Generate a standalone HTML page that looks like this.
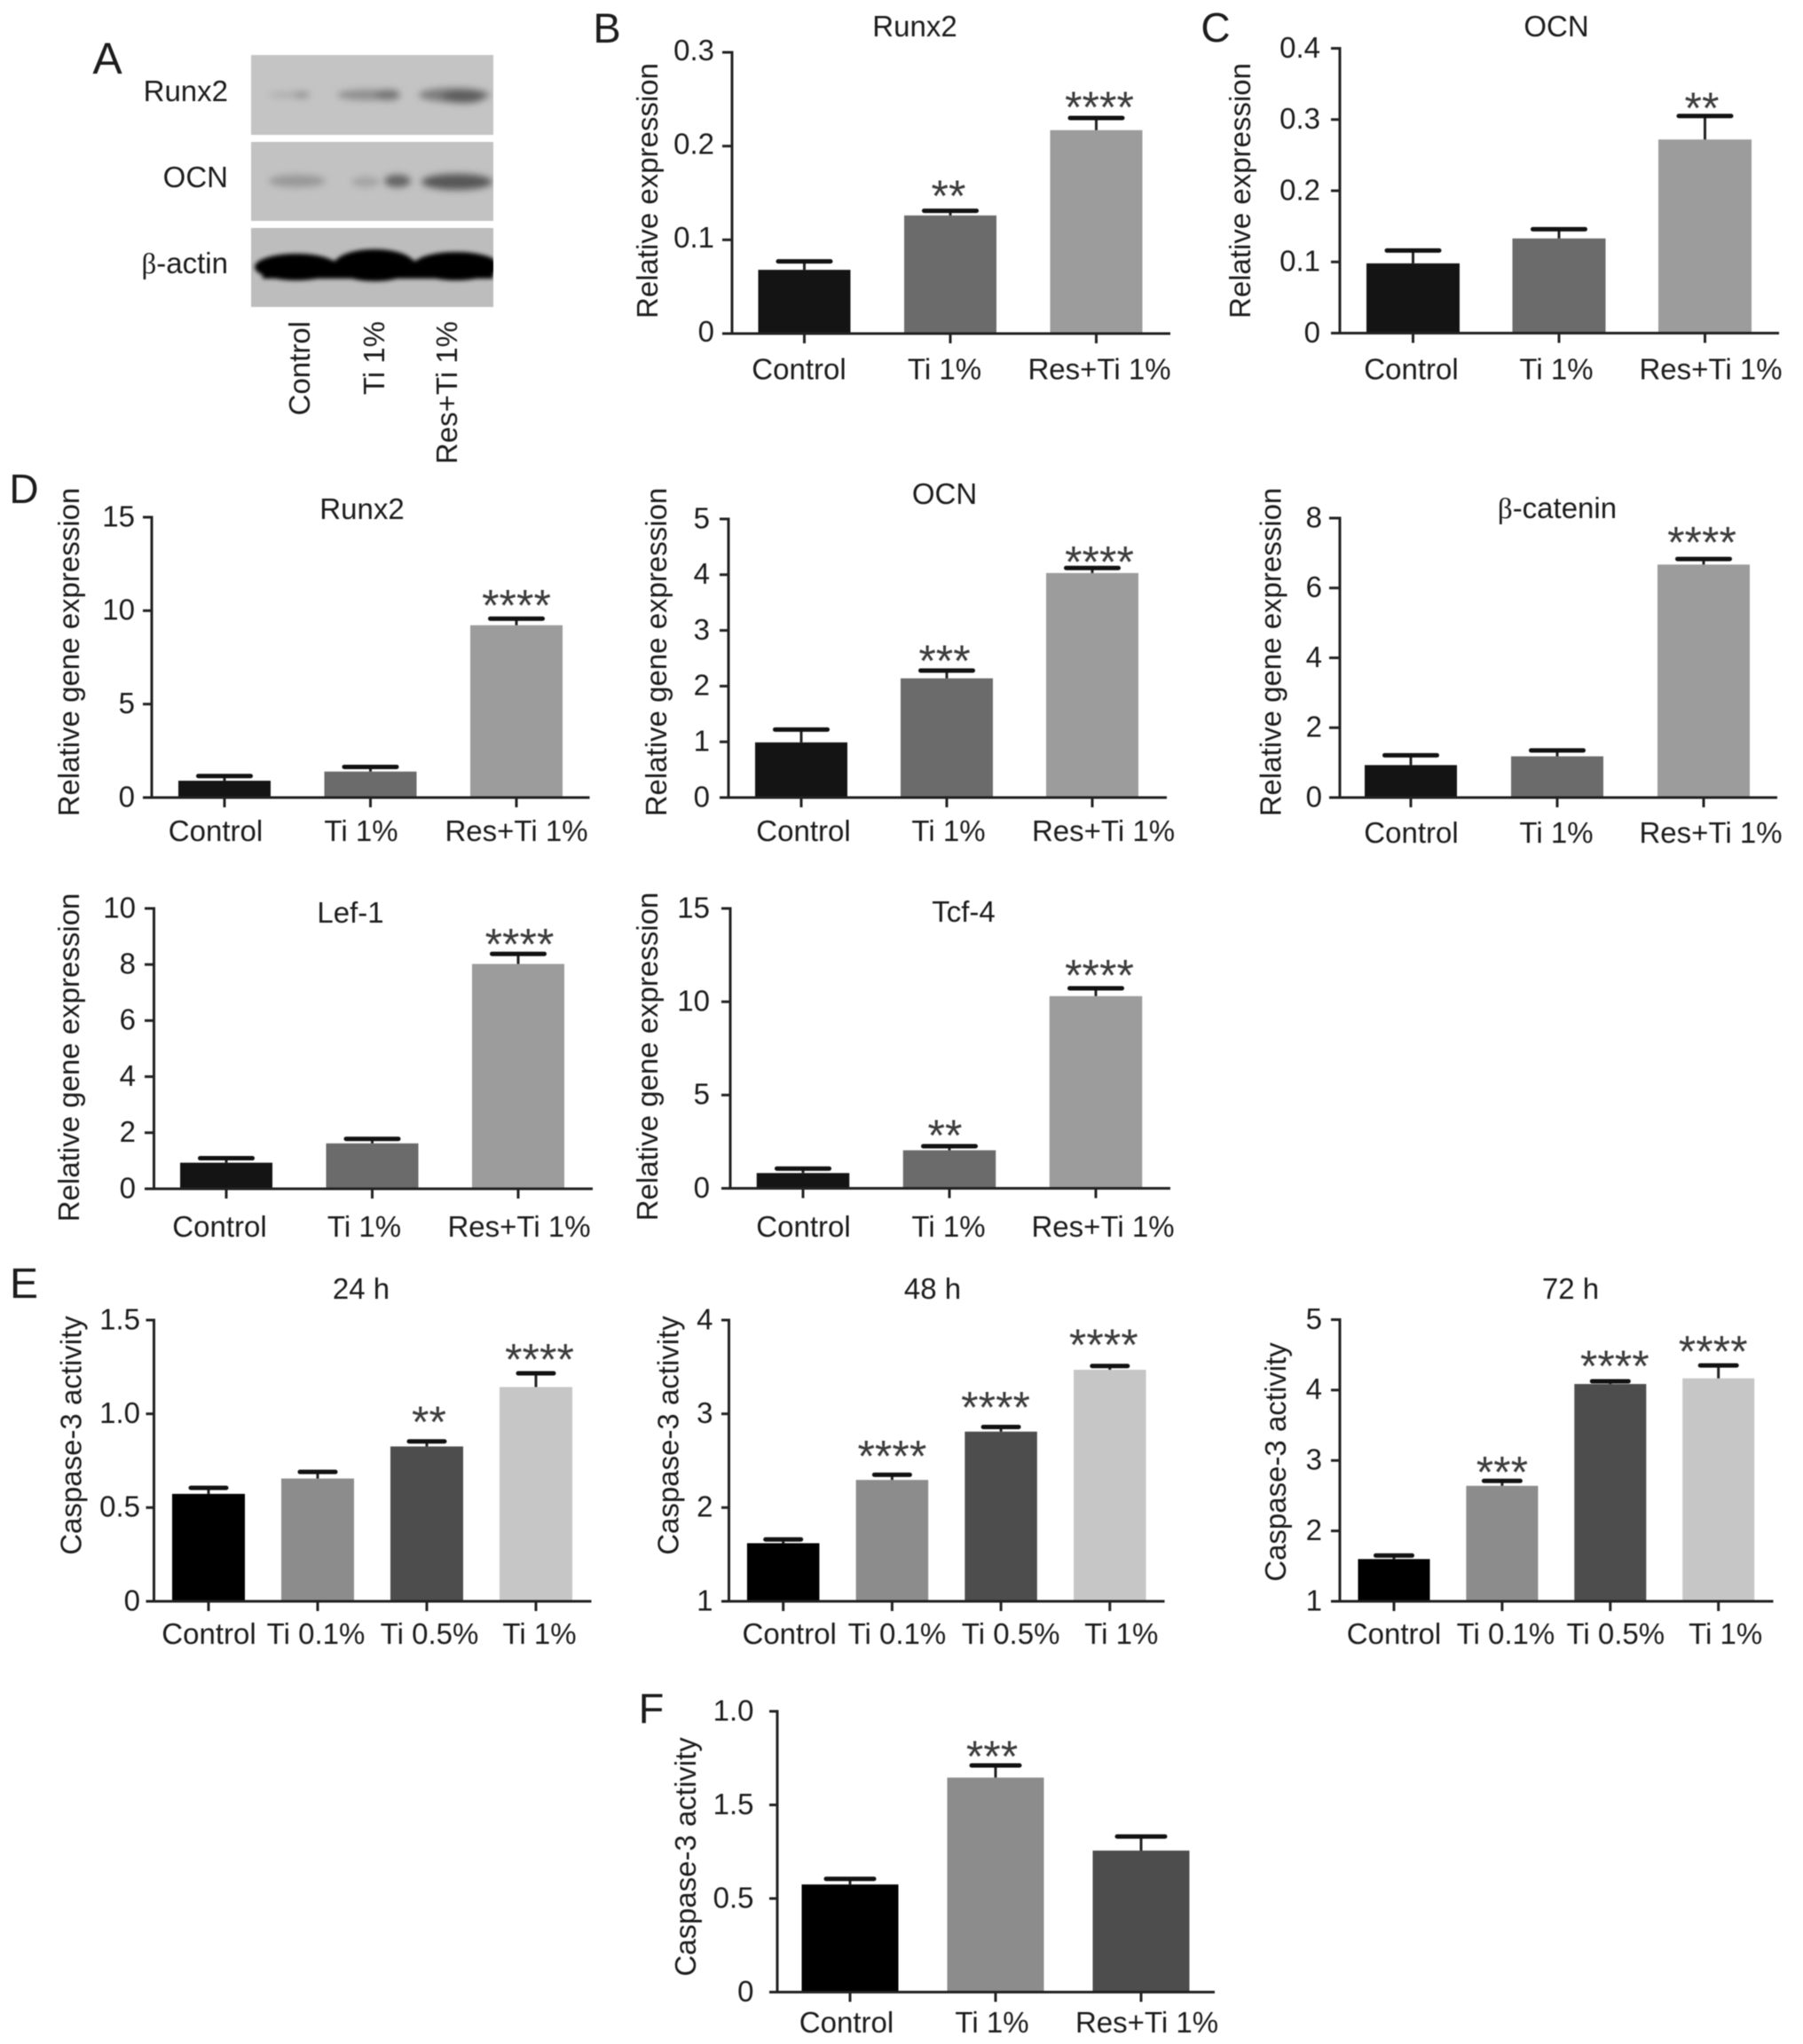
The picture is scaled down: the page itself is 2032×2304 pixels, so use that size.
<!DOCTYPE html>
<html lang="en">
<head>
<meta charset="utf-8">
<title>Runx2, OCN, Wnt gene expression and Caspase-3 activity figure</title>
<style>
html,body{margin:0;padding:0;background:#fff;}
#figure{display:block;width:2032px;height:2304px;filter:blur(0.6px);}
text{font-family:"Liberation Sans",Arial,sans-serif;fill:#1c1c1c;}
</style>
</head>
<body>
<svg id="figure" xmlns="http://www.w3.org/2000/svg" width="2032" height="2304" viewBox="0 0 2032 2304">
<defs>
  <filter id="bandBlur" x="-30%" y="-80%" width="160%" height="260%"><feGaussianBlur stdDeviation="4"/></filter>
  <filter id="blotEdge" x="-5%" y="-30%" width="110%" height="160%"><feGaussianBlur stdDeviation="2.5"/></filter>
  <clipPath id="clipBlot1"><rect x="283" y="62" width="273" height="90"/></clipPath>
  <clipPath id="clipBlot2"><rect x="283" y="160" width="273" height="89"/></clipPath>
  <clipPath id="clipBlot3"><rect x="283" y="257" width="273" height="89"/></clipPath>
</defs>
<rect x="0" y="0" width="2032" height="2304" fill="#fff"/>

<text x="121" y="83" font-size="50" text-anchor="middle">A</text>
<text x="684" y="48" font-size="47" text-anchor="middle">B</text>
<text x="1370" y="47" font-size="46" text-anchor="middle">C</text>
<text x="27" y="567" font-size="46" text-anchor="middle">D</text>
<text x="27" y="1463" font-size="48" text-anchor="middle">E</text>
<text x="734" y="1942" font-size="47" text-anchor="middle">F</text>

<g>
  <g clip-path="url(#clipBlot1)">
    <rect x="283" y="62" width="273" height="90" fill="#c4c4c4"/>
    <g filter="url(#bandBlur)">
      <ellipse cx="326" cy="107" rx="24" ry="3" fill="#aaaaaa"/>
      <ellipse cx="340" cy="107" rx="9" ry="4" fill="#969696"/>
      <ellipse cx="414" cy="107" rx="34" ry="6" fill="#8e8e8e"/>
      <ellipse cx="437" cy="107" rx="14" ry="6" fill="#747474"/>
      <ellipse cx="512" cy="107" rx="40" ry="8" fill="#7c7c7c"/>
      <ellipse cx="522" cy="109" rx="24" ry="7" fill="#5c5c5c"/>
    </g>
  </g>
  <g clip-path="url(#clipBlot2)">
    <rect x="283" y="160" width="273" height="89" fill="#c2c2c2"/>
    <g filter="url(#bandBlur)">
      <ellipse cx="335" cy="204" rx="32" ry="7" fill="#989898"/>
      <ellipse cx="412" cy="205" rx="16" ry="6" fill="#a4a4a4"/>
      <ellipse cx="448" cy="204" rx="15" ry="7" fill="#626262"/>
      <ellipse cx="515" cy="205" rx="40" ry="9" fill="#565656"/>
    </g>
  </g>
  <g clip-path="url(#clipBlot3)">
    <rect x="283" y="257" width="273" height="89" fill="#bdbdbd"/>
    <g filter="url(#blotEdge)">
      <ellipse cx="334" cy="301" rx="47" ry="15" fill="#060606"/>
      <ellipse cx="422" cy="299" rx="46" ry="18" fill="#060606"/>
      <ellipse cx="514" cy="300" rx="49" ry="16" fill="#060606"/>
      <rect x="296" y="294" width="260" height="20" fill="#060606"/>
    </g>
  </g>
  <text x="257" y="114" font-size="33" text-anchor="end">Runx2</text>
  <text x="257" y="211" font-size="33" text-anchor="end">OCN</text>
  <text x="257" y="308" font-size="33" text-anchor="end"><tspan font-family="'Liberation Serif',serif">β</tspan>-actin</text>
  <text transform="translate(349 362) rotate(-90)" font-size="33" text-anchor="end">Control</text>
  <text transform="translate(433 362) rotate(-90)" font-size="33" text-anchor="end">Ti 1%</text>
  <text transform="translate(515 362) rotate(-90)" font-size="33" text-anchor="end">Res+Ti 1%</text>
</g>

<g id="charts"></g>

<script>
// ----- shared categories -----
const categoriesThree = ["Control", "Ti 1%", "Res+Ti 1%"];
const categoriesDose = ["Control", "Ti 0.1%", "Ti 0.5%", "Ti 1%"];

// ----- panel B -----
const panelBValues = [0.068, 0.126, 0.217];
const panelBUpper = [0.077, 0.131, 0.230];
const panelBStars = ["", "**", "****"];
const panelBTicks = [0, 0.1, 0.2, 0.3];
const panelBTickLabels = ["0", "0.1", "0.2", "0.3"];

// ----- panel C -----
const panelCValues = [0.098, 0.133, 0.272];
const panelCUpper = [0.116, 0.146, 0.305];
const panelCStars = ["", "", "**"];
const panelCTicks = [0, 0.1, 0.2, 0.3, 0.4];
const panelCTickLabels = ["0", "0.1", "0.2", "0.3", "0.4"];

// ----- panel D: Runx2 -----
const runx2Values = [0.9, 1.39, 9.22];
const runx2Upper = [1.15, 1.64, 9.57];
const runx2Stars = ["", "", "****"];
const runx2Ticks = [0, 5, 10, 15];
const runx2TickLabels = ["0", "5", "10", "15"];

// ----- panel D: OCN -----
const ocnValues = [0.99, 2.14, 4.03];
const ocnUpper = [1.22, 2.28, 4.12];
const ocnStars = ["", "***", "****"];
const ocnTicks = [0, 1, 2, 3, 4, 5];
const ocnTickLabels = ["0", "1", "2", "3", "4", "5"];

// ----- panel D: beta-catenin -----
const cateninValues = [0.93, 1.18, 6.67];
const cateninUpper = [1.21, 1.35, 6.83];
const cateninStars = ["", "", "****"];
const cateninTicks = [0, 2, 4, 6, 8];
const cateninTickLabels = ["0", "2", "4", "6", "8"];

// ----- panel D: Lef-1 -----
const lefValues = [0.93, 1.62, 8.02];
const lefUpper = [1.09, 1.78, 8.38];
const lefStars = ["", "", "****"];
const lefTicks = [0, 2, 4, 6, 8, 10];
const lefTickLabels = ["0", "2", "4", "6", "8", "10"];

// ----- panel D: Tcf-4 -----
const tcfValues = [0.82, 2.04, 10.3];
const tcfUpper = [1.06, 2.26, 10.72];
const tcfStars = ["", "**", "****"];
const tcfTicks = [0, 5, 10, 15];
const tcfTickLabels = ["0", "5", "10", "15"];

// ----- panel E: 24 h -----
const h24Values = [0.573, 0.655, 0.826, 1.143];
const h24Upper = [0.605, 0.69, 0.853, 1.216];
const h24Stars = ["", "", "**", "****"];
const h24Ticks = [0, 0.5, 1, 1.5];
const h24TickLabels = ["0", "0.5", "1.0", "1.5"];

// ----- panel E: 48 h -----
const h48Values = [1.62, 2.295, 2.81, 3.47];
const h48Upper = [1.66, 2.35, 2.86, 3.51];
const h48Stars = ["", "****", "****", "****"];
const h48Ticks = [1, 2, 3, 4];
const h48TickLabels = ["1", "2", "3", "4"];

// ----- panel E: 72 h -----
const h72Values = [1.6, 2.64, 4.086, 4.166];
const h72Upper = [1.65, 2.71, 4.125, 4.35];
const h72Stars = ["", "***", "****", "****"];
const h72Ticks = [1, 2, 3, 4, 5];
const h72TickLabels = ["1", "2", "3", "4", "5"];

// ----- panel F (printed tick labels kept as they appear in the figure) -----
const panelFValues = [0.575, 1.146, 0.756];
const panelFUpper = [0.605, 1.211, 0.831];
const panelFStars = ["", "***", ""];
const panelFTicks = [0, 0.5, 1, 1.5];
const panelFTickLabels = ["0", "0.5", "1.5", "1.0"];

const SHADES_THREE = ["#141414", "#6b6b6b", "#9c9c9c"];
const SHADES_DOSE = ["#000000", "#8c8c8c", "#4d4d4d", "#c6c6c6"];
const SHADES_F = ["#000000", "#8c8c8c", "#4d4d4d"];
const NS = "http://www.w3.org/2000/svg";
const FONT = 33;
const INK = "#222222";
const STAR_SIZE = 50;
const STAR_LIFT = 5.5;

function make(tag, parent) {
  const el = document.createElementNS(NS, tag);
  parent.appendChild(el);
  return el;
}
function lineAttrs(el, x1, y1, x2, y2, w, cap) {
  el.setAttribute("x1", x1);
  el.setAttribute("y1", y1);
  el.setAttribute("x2", x2);
  el.setAttribute("y2", y2);
  el.setAttribute("stroke", INK);
  el.setAttribute("stroke-width", w);
  if (cap) el.setAttribute("stroke-linecap", cap);
}

function drawPanel(p) {
  const root = document.getElementById("charts");
  const g = make("g", root);
  
  

  const yScale = v => p.yBot - (v - p.min) / (p.max - p.min) * (p.yBot - p.yTop);
  const xScale = i => p.firstTick + i * p.tickStep;
  const tickDy = p.tickLabelDy === undefined ? -1.5 : p.tickLabelDy;

  // bars first so the axes sit on top
  p.values.forEach((v, i) => {
    const top = yScale(v);
    const bar = make("rect", g);
    
    
    bar.setAttribute("x", xScale(i) - p.barW / 2);
    bar.setAttribute("y", top);
    bar.setAttribute("width", p.barW);
    bar.setAttribute("height", p.yBot - top);
    bar.setAttribute("fill", p.shades[i]);

    const capY = yScale(p.upper[i]);
    const stem = make("line", g);
    
    
    lineAttrs(stem, xScale(i), top, xScale(i), capY, 3);

    const cap = make("line", g);
    
    
    lineAttrs(cap, xScale(i) - p.capW / 2, capY, xScale(i) + p.capW / 2, capY, 5, "round");
    cap.setAttribute("stroke", "#111");

    if (p.stars[i]) {
      const s = make("text", g);
      
      
      s.setAttribute("x", xScale(i) + p.starDx[i]);
      s.setAttribute("y", capY - p.starGap[i] + 0.575 * STAR_SIZE - STAR_LIFT);
      s.setAttribute("font-size", STAR_SIZE);
      s.setAttribute("text-anchor", "middle");
      s.setAttribute("style", "fill:#3c3c3c");
      s.textContent = p.stars[i];
    }
  });

  // y axis
  const yAxis = make("line", g);
  
  
  lineAttrs(yAxis, p.axisX, p.yTop - 1.5, p.axisX, p.yBot + 1.5, 3);

  p.ticks.forEach((t, i) => {
    const y = yScale(t);
    const tick = make("line", g);
    
    
    lineAttrs(tick, p.tickLeft, y, p.axisX, y, 3);

    const lab = make("text", g);
    
    
    lab.setAttribute("x", p.tickLabelRight);
    lab.setAttribute("y", y + 0.358 * FONT + tickDy);
    lab.setAttribute("font-size", FONT);
    lab.setAttribute("text-anchor", "end");
    lab.textContent = p.tickLabels[i];
  });

  // x axis
  const xAxis = make("line", g);
  
  
  lineAttrs(xAxis, p.tickLeft, p.yBot, p.xEnd, p.yBot, 3);

  p.categories.forEach((c, i) => {
    const x = xScale(i);
    const tick = make("line", g);
    
    
    lineAttrs(tick, x, p.yBot, x, p.yBot + 11, 3);

    const lab = make("text", g);
    
    
    lab.setAttribute("x", x + p.labelDx[i]);
    lab.setAttribute("y", p.labelY + 0.358 * FONT);
    lab.setAttribute("font-size", FONT);
    lab.setAttribute("text-anchor", "middle");
    lab.textContent = c;
  });

  // chart title
  if (p.title) {
    const t = make("text", g);
    
    
    t.setAttribute("x", p.titleX);
    t.setAttribute("y", p.titleY + 0.358 * FONT);
    t.setAttribute("font-size", FONT);
    t.setAttribute("text-anchor", "middle");
    if (p.titleGreek) {
      const b = make("tspan", t);
      b.setAttribute("font-family", "'Liberation Serif',serif");
      b.textContent = p.titleGreek;
      const rest = make("tspan", t);
      rest.textContent = p.title;
    } else {
      t.textContent = p.title;
    }
  }

  // y axis title
  const yt = make("text", g);
  
  
  yt.setAttribute("transform", "translate(" + (p.yTitleX + 11) + " " + p.yTitleY + ") rotate(-90)");
  yt.setAttribute("font-size", FONT);
  yt.setAttribute("text-anchor", "middle");
  yt.textContent = p.yTitle;
}

const RELEXP = "Relative expression";
const RELGENE = "Relative gene expression";
const CASP = "Caspase-3 activity";

drawPanel({name:"panel-b-runx2-protein", title:"Runx2", titleX:1031, titleY:29, yTitle:RELEXP, yTitleX:730, yTitleY:215,
  categories:categoriesThree, values:panelBValues, upper:panelBUpper, stars:panelBStars, ticks:panelBTicks, tickLabels:panelBTickLabels, shades:SHADES_THREE,
  min:0, max:0.3, axisX:825, tickLeft:814, xEnd:1319, yTop:59, yBot:376, firstTick:906.5, tickStep:164.5, barW:104, capW:59,
  tickLabelRight:805, tickLabelDy:-3, labelY:415.5, labelDx:[-6,-6.5,3.5], starDx:[0,-2,3.5], starGap:[0,23,18]});

drawPanel({name:"panel-c-ocn-protein", title:"OCN", titleX:1754, titleY:29, yTitle:RELEXP, yTitleX:1398, yTitleY:215,
  categories:categoriesThree, values:panelCValues, upper:panelCUpper, stars:panelCStars, ticks:panelCTicks, tickLabels:panelCTickLabels, shades:SHADES_THREE,
  min:0, max:0.4, axisX:1510, tickLeft:1500, xEnd:2005, yTop:54.5, yBot:375.5, firstTick:1592.5, tickStep:164.5, barW:105, capW:59,
  tickLabelRight:1488, labelY:415.5, labelDx:[-2,-3,6.5], starDx:[0,0,-3.5], starGap:[0,0,15]});

drawPanel({name:"panel-d-runx2-gene", title:"Runx2", titleX:408, titleY:573, yTitle:RELGENE, yTitleX:78, yTitleY:735,
  categories:categoriesThree, values:runx2Values, upper:runx2Upper, stars:runx2Stars, ticks:runx2Ticks, tickLabels:runx2TickLabels, shades:SHADES_THREE,
  min:0, max:15, axisX:171, tickLeft:161, xEnd:664.5, yTop:583, yBot:899, firstTick:253, tickStep:164.5, barW:104, capW:59,
  tickLabelRight:152, labelY:936, labelDx:[-10,-10.5,0], starDx:[0,0,0], starGap:[0,0,21]});

drawPanel({name:"panel-d-ocn-gene", title:"OCN", titleX:1064.5, titleY:556, yTitle:RELGENE, yTitleX:740, yTitleY:735,
  categories:categoriesThree, values:ocnValues, upper:ocnUpper, stars:ocnStars, ticks:ocnTicks, tickLabels:ocnTickLabels, shades:SHADES_THREE,
  min:0, max:5, axisX:821, tickLeft:811, xEnd:1315, yTop:585, yBot:899, firstTick:903, tickStep:164, barW:104, capW:59,
  tickLabelRight:800, labelY:936, labelDx:[2.5,2,12.5], starDx:[0,-2.5,8], starGap:[0,17,13]});

drawPanel({name:"panel-d-beta-catenin-gene", titleGreek:"β", title:"-catenin", titleX:1755, titleY:572, yTitle:RELGENE, yTitleX:1432.5, yTitleY:735,
  categories:categoriesThree, values:cateninValues, upper:cateninUpper, stars:cateninStars, ticks:cateninTicks, tickLabels:cateninTickLabels, shades:SHADES_THREE,
  min:0, max:8, axisX:1510, tickLeft:1498, xEnd:2003, yTop:584, yBot:899, firstTick:1590, tickStep:165, barW:104, capW:59,
  tickLabelRight:1490, labelY:938, labelDx:[0.5,-1,8], starDx:[0,0,-2], starGap:[0,0,25]});

drawPanel({name:"panel-d-lef1-gene", title:"Lef-1", titleX:395, titleY:1028, yTitle:RELGENE, yTitleX:78, yTitleY:1192,
  categories:categoriesThree, values:lefValues, upper:lefUpper, stars:lefStars, ticks:lefTicks, tickLabels:lefTickLabels, shades:SHADES_THREE,
  min:0, max:10, axisX:173.5, tickLeft:163, xEnd:668, yTop:1024, yBot:1340, firstTick:255, tickStep:164.5, barW:104, capW:59,
  tickLabelRight:153, labelY:1382, labelDx:[-7.5,-9,1], starDx:[0,0,1.5], starGap:[0,0,17]});

drawPanel({name:"panel-d-tcf4-gene", title:"Tcf-4", titleX:1086, titleY:1027, yTitle:RELGENE, yTitleX:730, yTitleY:1191,
  categories:categoriesThree, values:tcfValues, upper:tcfUpper, stars:tcfStars, ticks:tcfTicks, tickLabels:tcfTickLabels, shades:SHADES_THREE,
  min:0, max:15, axisX:823, tickLeft:813, xEnd:1319, yTop:1024, yBot:1339.5, firstTick:905, tickStep:165, barW:104.5, capW:59,
  tickLabelRight:800, labelY:1382, labelDx:[0.5,-1,8], starDx:[0,-5,4], starGap:[0,18,21]});

drawPanel({name:"panel-e-caspase-24h", title:"24 h", titleX:407, titleY:1452, yTitle:CASP, yTitleX:80.5, yTitleY:1618,
  categories:categoriesDose, values:h24Values, upper:h24Upper, stars:h24Stars, ticks:h24Ticks, tickLabels:h24TickLabels, shades:SHADES_DOSE,
  min:0, max:1.5, axisX:173.5, tickLeft:164.5, xEnd:666.5, yTop:1488, yBot:1805, firstTick:235, tickStep:123, barW:82, capW:40,
  tickLabelRight:158, labelY:1841, labelDx:[0.5,-2,3,4], starDx:[0,0,2.5,4], starGap:[0,0,28,22]});

drawPanel({name:"panel-e-caspase-48h", title:"48 h", titleX:1051, titleY:1452, yTitle:CASP, yTitleX:753.5, yTitleY:1618,
  categories:categoriesDose, values:h48Values, upper:h48Upper, stars:h48Stars, ticks:h48Ticks, tickLabels:h48TickLabels, shades:SHADES_DOSE,
  min:1, max:4, axisX:821.5, tickLeft:813, xEnd:1312.5, yTop:1488, yBot:1805, firstTick:882.7, tickStep:122.7, barW:81.5, capW:40,
  tickLabelRight:803.5, labelY:1841, labelDx:[7,5.5,11,13], starDx:[0,0,-6,-7], starGap:[0,27,28,30]});

drawPanel({name:"panel-e-caspase-72h", title:"72 h", titleX:1770, titleY:1452, yTitle:CASP, yTitleX:1438, yTitleY:1648,
  categories:categoriesDose, values:h72Values, upper:h72Upper, stars:h72Stars, ticks:h72Ticks, tickLabels:h72TickLabels, shades:SHADES_DOSE,
  min:1, max:5, axisX:1510, tickLeft:1500, xEnd:1998.5, yTop:1487.5, yBot:1805, firstTick:1571, tickStep:121.9, barW:81, capW:41,
  tickLabelRight:1490, labelY:1841, labelDx:[0,4,6,8], starDx:[0,0,5,-6], starGap:[0,16,23,22]});

drawPanel({name:"panel-f-caspase", yTitle:CASP, yTitleX:773, yTitleY:2093,
  categories:categoriesThree, values:panelFValues, upper:panelFUpper, stars:panelFStars, ticks:panelFTicks, tickLabels:panelFTickLabels, shades:SHADES_F,
  min:0, max:1.5, axisX:876, tickLeft:867, xEnd:1369, yTop:1929, yBot:2245.5, firstTick:958, tickStep:164, barW:109, capW:54,
  tickLabelRight:849.5, labelY:2279, labelDx:[-4,-4,6.5], starDx:[0,-4,0], starGap:[0,16,0]});
</script>
</svg>
</body>
</html>
